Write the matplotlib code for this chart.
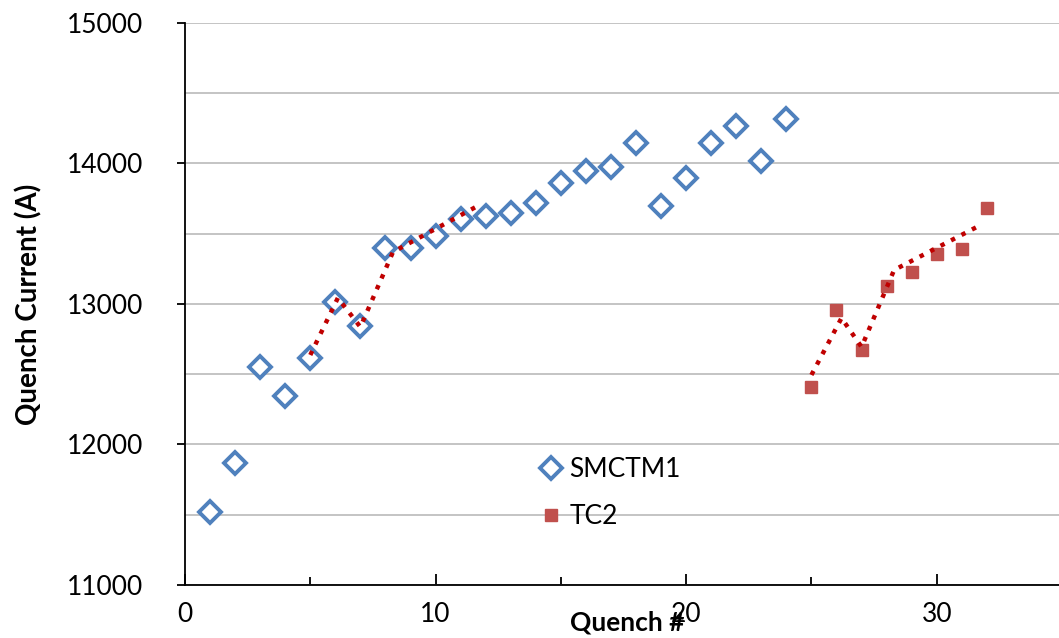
import matplotlib.pyplot as plt
import numpy as np

# quench number vs current
smctm1_x = list(range(1, 25))
smctm1_y = [11520, 11868, 12552, 12345, 12616, 13014, 12843, 13399, 13399, 13484,
            13605, 13626, 13648, 13719, 13861, 13947, 13975, 14146, 13698, 13897,
            14146, 14267, 14018, 14317]
tc2_x = list(range(25, 33))
tc2_y = [12409, 12957, 12673, 13128, 13228, 13356, 13391, 13683]

# dotted trend lines
trend1_x = [5.0, 6.1, 7.0, 8.3, 11.6]
trend1_y = [12637, 13043, 12836, 13370, 13690]
trend2_x = [25.0, 26.2, 27.0, 28.3, 31.6]
trend2_y = [12495, 12900, 12694, 13242, 13548]

plt.rcParams['font.family'] = ['Lato', 'DejaVu Sans']

fig = plt.figure(figsize=(10.59, 6.38), dpi=100)
ax = fig.add_axes([185/1059, 53/638, 877/1059, 562/638])

ax.set_yticks(np.arange(11500, 15001, 500), minor=True)
ax.grid(axis='y', which='both', color='#BFBFBF', lw=1.3)
ax.set_axisbelow(True)

ax.plot(trend1_x, trend1_y, ls=':', color='#C00000', lw=3.2, zorder=3)
ax.plot(trend2_x, trend2_y, ls=':', color='#C00000', lw=3.2, zorder=3)
ax.plot(smctm1_x, smctm1_y, ls='none', marker='D', ms=11, mfc='white',
        mec='#4F81BD', mew=2.8, label='SMCTM1', zorder=2)
ax.plot(tc2_x, tc2_y, ls='none', marker='s', ms=9, mfc='#C0504D',
        mec='#C0504D', label='TC2', zorder=2)

ax.set_xlim(0, 35)
ax.set_ylim(11000, 15000)
ax.set_xticks([0, 10, 20, 30])
ax.set_xticks([5, 15, 25], minor=True)
ax.set_yticks(np.arange(11000, 15001, 1000))
ax.tick_params(axis='x', which='major', direction='in', length=8, width=1.3, labelsize=19, pad=12)
ax.tick_params(axis='x', which='minor', direction='in', length=6, width=1.3)
ax.tick_params(axis='y', which='major', direction='out', length=6, width=1.3, labelsize=19, pad=24)
ax.tick_params(axis='y', which='minor', length=0)

for s in ['top', 'right']:
    ax.spines[s].set_visible(False)
for s in ['left', 'bottom']:
    ax.spines[s].set_linewidth(1.3)

ax.set_ylabel('Quench Current (A)', fontsize=20, fontweight='bold', labelpad=18)
ax.set_xlabel('Quench #', fontsize=19, fontweight='bold')
ax.xaxis.set_label_coords(0.504, -0.066)
ax.xaxis.label.set_va('center')

ax.legend(loc='upper left', bbox_to_anchor=(0.378, 0.27), frameon=False,
          fontsize=19, handlelength=0.8, handletextpad=0.3, labelspacing=0.85)

fig.savefig('out.png', dpi=100)
